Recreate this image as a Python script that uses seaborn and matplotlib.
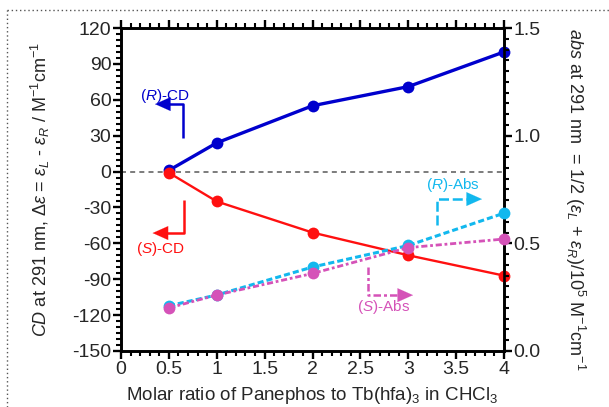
import matplotlib
matplotlib.use("Agg")
import matplotlib.pyplot as plt
from matplotlib.lines import Line2D
from matplotlib.ticker import MultipleLocator, FixedLocator
import numpy as np
import pandas as pd
import seaborn as sns

# Molar ratio of Panephos to Tb(hfa)3
ratio = [0.5, 1, 2, 3, 4]
# CD at 291 nm (left axis, M^-1 cm^-1)
r_cd = [1, 24, 55, 71, 100]
s_cd = [-1, -25, -51, -70, -87]
# absorbance at 291 nm (right axis, 10^5 M^-1 cm^-1)
r_abs = [0.21, 0.26, 0.39, 0.49, 0.64]
s_abs = [0.20, 0.26, 0.36, 0.48, 0.52]

x_ticks = [0, 0.5, 1, 1.5, 2, 2.5, 3, 3.5, 4]
x_ticklabels = ["0", "0.5", "1", "1.5", "2", "2.5", "3", "3.5", "4"]
left_ticks = [120, 90, 60, 30, 0, -30, -60, -90, -120, -150]
right_ticks = [0.0, 0.5, 1.0, 1.5]

df = pd.DataFrame({"ratio": ratio, "r_cd": r_cd, "s_cd": s_cd,
                   "r_abs": r_abs, "s_abs": s_abs})

sns.set_style("ticks")
plt.rcParams["font.family"] = ["Liberation Sans", "DejaVu Sans"]
plt.rcParams["mathtext.fontset"] = "custom"
plt.rcParams["mathtext.rm"] = "Liberation Sans"
plt.rcParams["mathtext.it"] = "Liberation Sans:italic"
plt.rcParams["mathtext.bf"] = "Liberation Sans:bold"
plt.rcParams["axes.unicode_minus"] = False

BLUE = "#0000CD"
RED = "#FF1010"
CYAN = "#12B8EE"
MAGENTA = "#D552B8"

fig = plt.figure(figsize=(6.09, 4.07), dpi=100)
ax = fig.add_axes([0.1987, 0.1376, 0.6289, 0.7936])
ax2 = ax.twinx()

# zero line
ax.axhline(0, color="#666666", lw=1.2, ls=(0, (3, 2.5)), zorder=1)

common = dict(marker="o", markersize=8.5, markeredgewidth=0, clip_on=False)
sns.lineplot(data=df, x="ratio", y="r_cd", ax=ax, color=BLUE, lw=2.4,
             zorder=3, **common)
sns.lineplot(data=df, x="ratio", y="s_cd", ax=ax, color=RED, lw=1.7,
             zorder=4, **common)
sns.lineplot(data=df, x="ratio", y="r_abs", ax=ax2, color=CYAN, lw=2.2,
             linestyle=(0, (2.0, 1.0)), zorder=3, **common)
sns.lineplot(data=df, x="ratio", y="s_abs", ax=ax2, color=MAGENTA, lw=2.0,
             linestyle=(0, (2.2, 1.0, 1.0, 1.0)), zorder=4, **common)

ax.set_xlim(0, 4)
ax.set_ylim(-150, 120)
ax2.set_ylim(0, 1.5)

ax.xaxis.set_major_locator(FixedLocator(x_ticks))
ax.set_xticklabels(x_ticklabels)
ax.xaxis.set_minor_locator(MultipleLocator(0.1))
ax.yaxis.set_major_locator(FixedLocator(left_ticks))
ax.set_yticklabels([str(v) for v in left_ticks])
ax.yaxis.set_minor_locator(MultipleLocator(5))
ax2.yaxis.set_major_locator(FixedLocator(right_ticks))
ax2.set_yticklabels([f"{v:.1f}" for v in right_ticks])
ax2.yaxis.set_minor_locator(MultipleLocator(0.05))

for a in (ax, ax2):
    for s in a.spines.values():
        s.set_linewidth(1.9)
        s.set_color("black")
    a.tick_params(which="major", direction="out", length=5.5, width=1.7,
                  labelsize=14, color="black", pad=1.5)
    a.tick_params(which="minor", direction="out", length=3.5, width=1.5,
                  color="black")
ax.tick_params(axis="x", which="both", top=True, bottom=True)
ax.tick_params(axis="y", which="both", right=False)

ax.set_xlabel(r"Molar ratio of Panephos to Tb(hfa)$_{3}$ in CHCl$_{3}$",
              fontsize=13.5)
ax.xaxis.set_label_coords(0.5, -0.105)
ax.set_ylabel(r"$\mathit{CD}$ at 291 nm, $\mathit{\Delta\varepsilon}$ = "
              r"$\mathit{\varepsilon}_{L}$ - $\mathit{\varepsilon}_{R}$ / "
              r"M$^{-1}$cm$^{-1}$", fontsize=13)
ax.yaxis.set_label_coords(-0.18, 0.5)
ax2.set_ylabel(r"$\mathit{abs}$ at 291 nm  = 1/2 ($\mathit{\varepsilon}_{L}$ + "
               r"$\mathit{\varepsilon}_{R}$)/10$^{5}$ M$^{-1}$cm$^{-1}$",
               fontsize=13, rotation=270, va="bottom")
ax2.yaxis.set_label_coords(1.155, 0.47)


def bent_arrow(corner_start, corner, tip, color, ls, lw=1.8):
    """Leader line with a right-angle bend ending in a filled arrowhead."""
    dx = 0.12 if tip[0] > corner[0] else -0.12
    xs = [corner_start[0], corner[0], tip[0] - dx]
    ys = [corner_start[1], corner[1], tip[1]]
    ax.plot(xs, ys, color=color, lw=lw, ls=ls, solid_capstyle="butt",
            zorder=5)
    ax.annotate("", xy=tip, xytext=(tip[0] - dx * 1.05, tip[1]),
                arrowprops=dict(arrowstyle="-|>,head_length=0.85,head_width=0.38",
                                mutation_scale=13, color=color, lw=0.1,
                                shrinkA=0, shrinkB=0),
                zorder=6)


bent_arrow((0.65, 28), (0.65, 56.4), (0.355, 56.4), BLUE, "-")
ax.text(0.46, 63, r"($\mathit{R}$)-CD", color=BLUE, fontsize=11,
        ha="center", va="center")

bent_arrow((0.66, -23.8), (0.66, -51.4), (0.33, -51.4), RED, "-")
ax.text(0.41, -64.5, r"($\mathit{S}$)-CD", color=RED, fontsize=11,
        ha="center", va="center")

bent_arrow((3.30, -44.7), (3.30, -23.0), (3.77, -23.0), CYAN, (0, (4, 1.5)))
ax.text(3.47, -11.5, r"($\mathit{R}$)-Abs", color=CYAN, fontsize=11,
        ha="center", va="center")

bent_arrow((2.58, -79.8), (2.58, -103.3), (3.05, -103.3), MAGENTA,
           (0, (3, 1.2, 1.2, 1.2)))
ax.text(2.74, -113.5, r"($\mathit{S}$)-Abs", color=MAGENTA, fontsize=11,
        ha="center", va="center")

# dotted frame around the panel
W, H = 609, 407
fx0, fy0 = 7 / W, 1 - 10 / H
fig.add_artist(Line2D([fx0, 1.0], [fy0, fy0], transform=fig.transFigure,
                      color="#555555", lw=1.0, ls=(0, (1, 2))))
fig.add_artist(Line2D([fx0, fx0], [0.0, fy0], transform=fig.transFigure,
                      color="#555555", lw=1.0, ls=(0, (1, 2))))

fig.savefig("out.png", dpi=100)
